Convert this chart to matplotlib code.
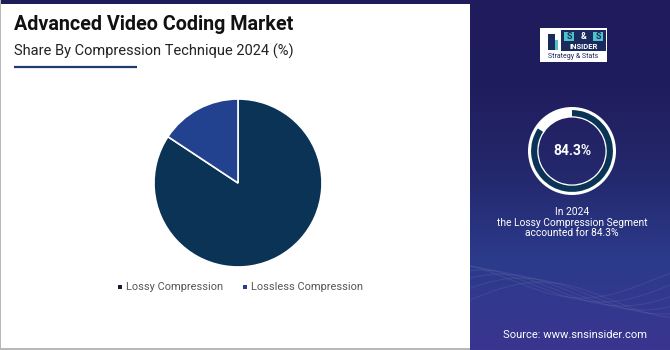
import numpy as np
import matplotlib.pyplot as plt
from matplotlib.patches import Rectangle
from matplotlib.colors import LinearSegmentedColormap

plt.rcParams['font.family'] = ['Roboto', 'DejaVu Sans']

segments = ['Lossy Compression', 'Lossless Compression']
shares = [84.3, 15.7]
seg_colors = ['#0b3356', '#22418f']
highlight = shares[0]

W, H = 670, 350
fig = plt.figure(figsize=(W / 100, H / 100), dpi=100)
fig.patch.set_facecolor('white')


def px_axes(x0, y0, w, h):
    # pixel box measured from the top-left corner
    return fig.add_axes([x0 / W, 1 - (y0 + h) / H, w / W, h / H])


# background / frame
bg = px_axes(0, 0, W, H)
bg.set_xlim(0, W)
bg.set_ylim(H, 0)
bg.axis('off')
bg.add_patch(Rectangle((0, 0), 470, 4, color='#1f1c5c', lw=0))
bg.add_patch(Rectangle((0, 0), 1.2, H, color='#b8b8b8', lw=0))
bg.add_patch(Rectangle((0, 347.5), 470, 2.5, color='#b8b8b8', lw=0))
bg.plot([14, 137], [67, 67], color='#1f3b6e', lw=1.6, solid_capstyle='butt')

bg.text(14, 30, 'Advanced Video Coding Market', fontsize=14.2, fontweight='bold',
        color='#111111', va='baseline')
bg.text(14, 56, 'Share By Compression Technique 2024 (%)', fontsize=10.5,
        color='#222222', va='baseline')

# legend
leg_x = [118, 243]
for x, lab, c in zip(leg_x, segments, ['#1a1a2e', seg_colors[1]]):
    bg.add_patch(Rectangle((x, 285), 4, 4, color=c, lw=0))
    bg.text(x + 8, 287.5, lab, fontsize=7.9, color='#555555', va='center')

# right panel with gradient
rp = px_axes(470, 0, 200, H)
grad = np.linspace(0, 1, 256).reshape(-1, 1)
cmap = LinearSegmentedColormap.from_list('panel', ['#1f1b5c', '#201d5e', '#24286c', '#2c3b8c', '#3a3590'])
rp.imshow(grad, aspect='auto', cmap=cmap, extent=[0, 200, H, 0])
rp.set_xlim(0, 200)
rp.set_ylim(H, 0)
rp.axis('off')
# faint wave lines in the lower part of the panel
t = np.linspace(0, 200, 200)
for k in range(6):
    rp.plot(t, 300 - 18 * np.sin((t + 20 * k) / 45) - 4 * k, color='white', alpha=0.07, lw=0.8)
rp.text(105, 335, 'Source: www.snsinsider.com', fontsize=8, color='white',
        ha='center', va='center')
rp.text(102, 222.5, 'In 2024\nthe Lossy Compression Segment\naccounted for 84.3%',
        fontsize=7.4, color='white', ha='center', va='center', linespacing=1.05)

# logo box
rp.add_patch(Rectangle((70, 28), 67, 34, color='white', lw=0))
rp.add_patch(Rectangle((91, 30), 45, 21, color='#1a2a5c', lw=0))
rp.add_patch(Rectangle((94, 32), 10, 9, color='#4fc3c8', lw=0))
rp.add_patch(Rectangle((123, 32), 10, 9, color='#4fc3c8', lw=0))
rp.text(99, 36.5, 'S', fontsize=6.5, fontweight='bold', color='#1a2a5c', ha='center', va='center')
rp.text(113.5, 36.5, '&', fontsize=6.5, fontweight='bold', color='white', ha='center', va='center')
rp.text(128, 36.5, 'S', fontsize=6.5, fontweight='bold', color='#1a2a5c', ha='center', va='center')
rp.text(113.5, 46.5, 'INSIDER', fontsize=5.5, fontweight='bold', color='white', ha='center', va='center')
rp.text(103.5, 56.5, 'Strategy & Stats', fontsize=5, color='#1a2a5c', ha='center', va='center')
rp.add_patch(Rectangle((78, 34), 7, 16, color='#1a2a5c', lw=0))
rp.add_patch(Rectangle((85, 40), 3, 10, color='#4fc3c8', lw=0))

# main pie
ax = px_axes(154, 99, 168, 168)
ax.pie(shares, colors=seg_colors, startangle=90, counterclock=False,
       wedgeprops=dict(edgecolor='white', linewidth=1.2))
ax.set_xlim(-1.0, 1.0)
ax.set_ylim(-1.0, 1.0)
ax.set_aspect('equal')

# donut indicator
dx = px_axes(528, 107, 88, 88)
dx.pie([1], colors=['white'], radius=1.0, wedgeprops=dict(width=0.24, linewidth=0))
dx.pie([highlight, 100 - highlight], colors=['#0b3356', 'none'], radius=0.93,
       startangle=90, counterclock=False, wedgeprops=dict(width=0.14, linewidth=0))
dx.text(0, 0, f'{highlight}%', fontsize=10, fontweight='bold', color='white',
        ha='center', va='center')
dx.set_xlim(-1.0, 1.0)
dx.set_ylim(-1.0, 1.0)
dx.set_aspect('equal')

fig.savefig('out.png', dpi=100)
